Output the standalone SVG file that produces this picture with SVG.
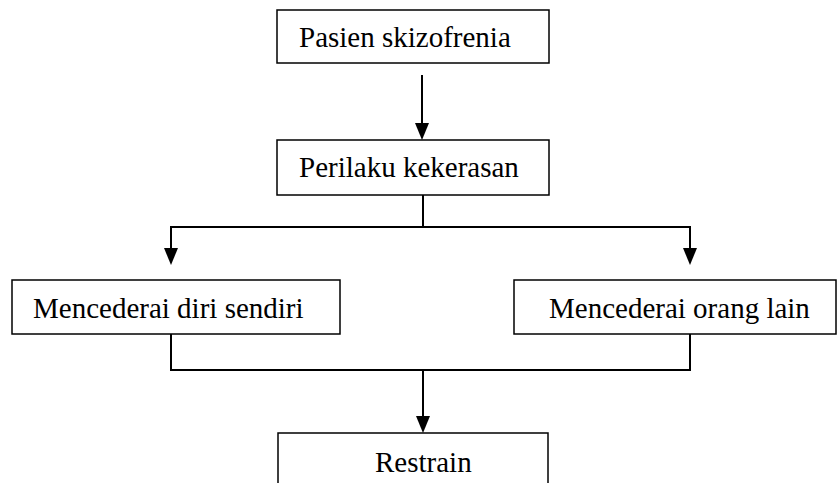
<svg xmlns="http://www.w3.org/2000/svg" width="837" height="483" viewBox="0 0 837 483">
<style>
.box{fill:#fff;stroke:#000;stroke-width:1.5}
.t{font-family:"Liberation Serif","Times New Roman",serif;font-size:29px;fill:#000}
.c{fill:none;stroke:#000;stroke-width:2}
.ah{fill:#000}
</style>
<rect width="837" height="483" fill="#fff"/>
<g id="connectors">
<path class="c" d="M422,75 V124"/>
<polygon class="ah" points="415,123 429,123 422,140"/>
<path class="c" d="M423,195 V227"/>
<path class="c" d="M171,250 V227 H690 V250"/>
<polygon class="ah" points="164,248 178,248 171,265"/>
<polygon class="ah" points="683,248 697,248 690,265"/>
<path class="c" d="M171,334 V370 H690 V334"/>
<path class="c" d="M423,370 V418"/>
<polygon class="ah" points="416,416 430,416 423,433"/>
</g>
<g id="n1"><rect class="box" x="277" y="10" width="272" height="53"/><text class="t" x="299" y="47">Pasien skizofrenia</text></g>
<g id="n2"><rect class="box" x="277" y="140" width="272" height="55"/><text class="t" x="299" y="177">Perilaku kekerasan</text></g>
<g id="n3"><rect class="box" x="12" y="280" width="328" height="54"/><text class="t" x="33" y="318">Mencederai diri sendiri</text></g>
<g id="n4"><rect class="box" x="514" y="280" width="322" height="54"/><text class="t" x="549" y="318">Mencederai orang lain</text></g>
<g id="n5"><rect class="box" x="278" y="433" width="270" height="60"/><text class="t" x="375" y="472">Restrain</text></g>
</svg>
